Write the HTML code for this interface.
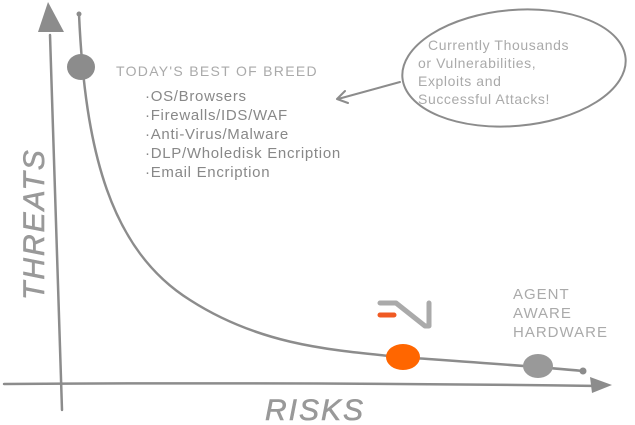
<!DOCTYPE html>
<html><head><style>
body{margin:0;width:635px;height:425px;background:#fff;overflow:hidden;position:relative;font-family:"Liberation Sans",sans-serif}
</style></head><body>
<svg width="635" height="425" viewBox="0 0 635 425" style="position:absolute;left:0;top:0">
<g fill="none" stroke="#8c8c8c" stroke-width="2.5" stroke-linecap="round" stroke-linejoin="round">
<path d="M50 35 Q56 200 62 410"/>
<path d="M4 384 Q300 382 600 386"/>
<path d="M79 14 C85 150 110 250 190 300 C260 345 330 350 400 357 C470 362 530 366 583 371"/>
<ellipse cx="514" cy="68" rx="112" ry="58" transform="rotate(-5 514 68)" stroke-width="2"/>
<path d="M400 82 L338 99 M345 91 L337 99 L348 103" stroke-width="2"/>
<path d="M380 303 L396 303 L425 326 L429 326 L429 303" stroke="#aaa" stroke-width="5"/>
</g>
<polygon points="48,2 38,32 64,32" fill="#8c8c8c"/>
<polygon points="590,377 612,385 592,393" fill="#8c8c8c"/>
<circle cx="583" cy="371" r="3.5" fill="#8c8c8c"/>
<circle cx="79" cy="14" r="2.5" fill="#8c8c8c"/>
<ellipse cx="81" cy="67" rx="14" ry="13" fill="#8c8c8c"/>
<ellipse cx="403" cy="357" rx="17" ry="13" fill="#ff6600"/>
<ellipse cx="538" cy="366" rx="15" ry="12" fill="#999"/>
<line x1="380" y1="315" x2="394" y2="315" stroke="#f05a23" stroke-width="5" stroke-linecap="round"/>
<g fill="#aaa" font-family="Liberation Sans,sans-serif">
<text x="116" y="76" font-size="14" letter-spacing="1.3">TODAY'S BEST OF BREED</text>
<text x="513" y="299" font-size="15" letter-spacing="1">AGENT</text>
<text x="513" y="318" font-size="15" letter-spacing="1">AWARE</text>
<text x="513" y="337" font-size="15" letter-spacing="1">HARDWARE</text>
<text x="428" y="50" font-size="14" letter-spacing="0.6">Currently Thousands</text>
<text x="418" y="68" font-size="14" letter-spacing="0.6">or Vulnerabilities,</text>
<text x="418" y="86" font-size="14" letter-spacing="0.6">Exploits and</text>
<text x="418" y="104" font-size="14" letter-spacing="0.6">Successful Attacks!</text>
</g>
<g fill="#888" font-size="15" letter-spacing="0.7">
<text x="145" y="101">·OS/Browsers</text>
<text x="145" y="120">·Firewalls/IDS/WAF</text>
<text x="145" y="139">·Anti-Virus/Malware</text>
<text x="145" y="158">·DLP/Wholedisk Encription</text>
<text x="145" y="177">·Email Encription</text>
</g>
<text x="265" y="420" fill="#999" font-size="30" letter-spacing="2" font-style="italic" stroke="#999" stroke-width="0.6">RISKS</text>
<text transform="translate(44 300) rotate(-90)" fill="#999" font-size="30" letter-spacing="2" font-style="italic" stroke="#999" stroke-width="0.6">THREATS</text>
</svg>
</body></html>
